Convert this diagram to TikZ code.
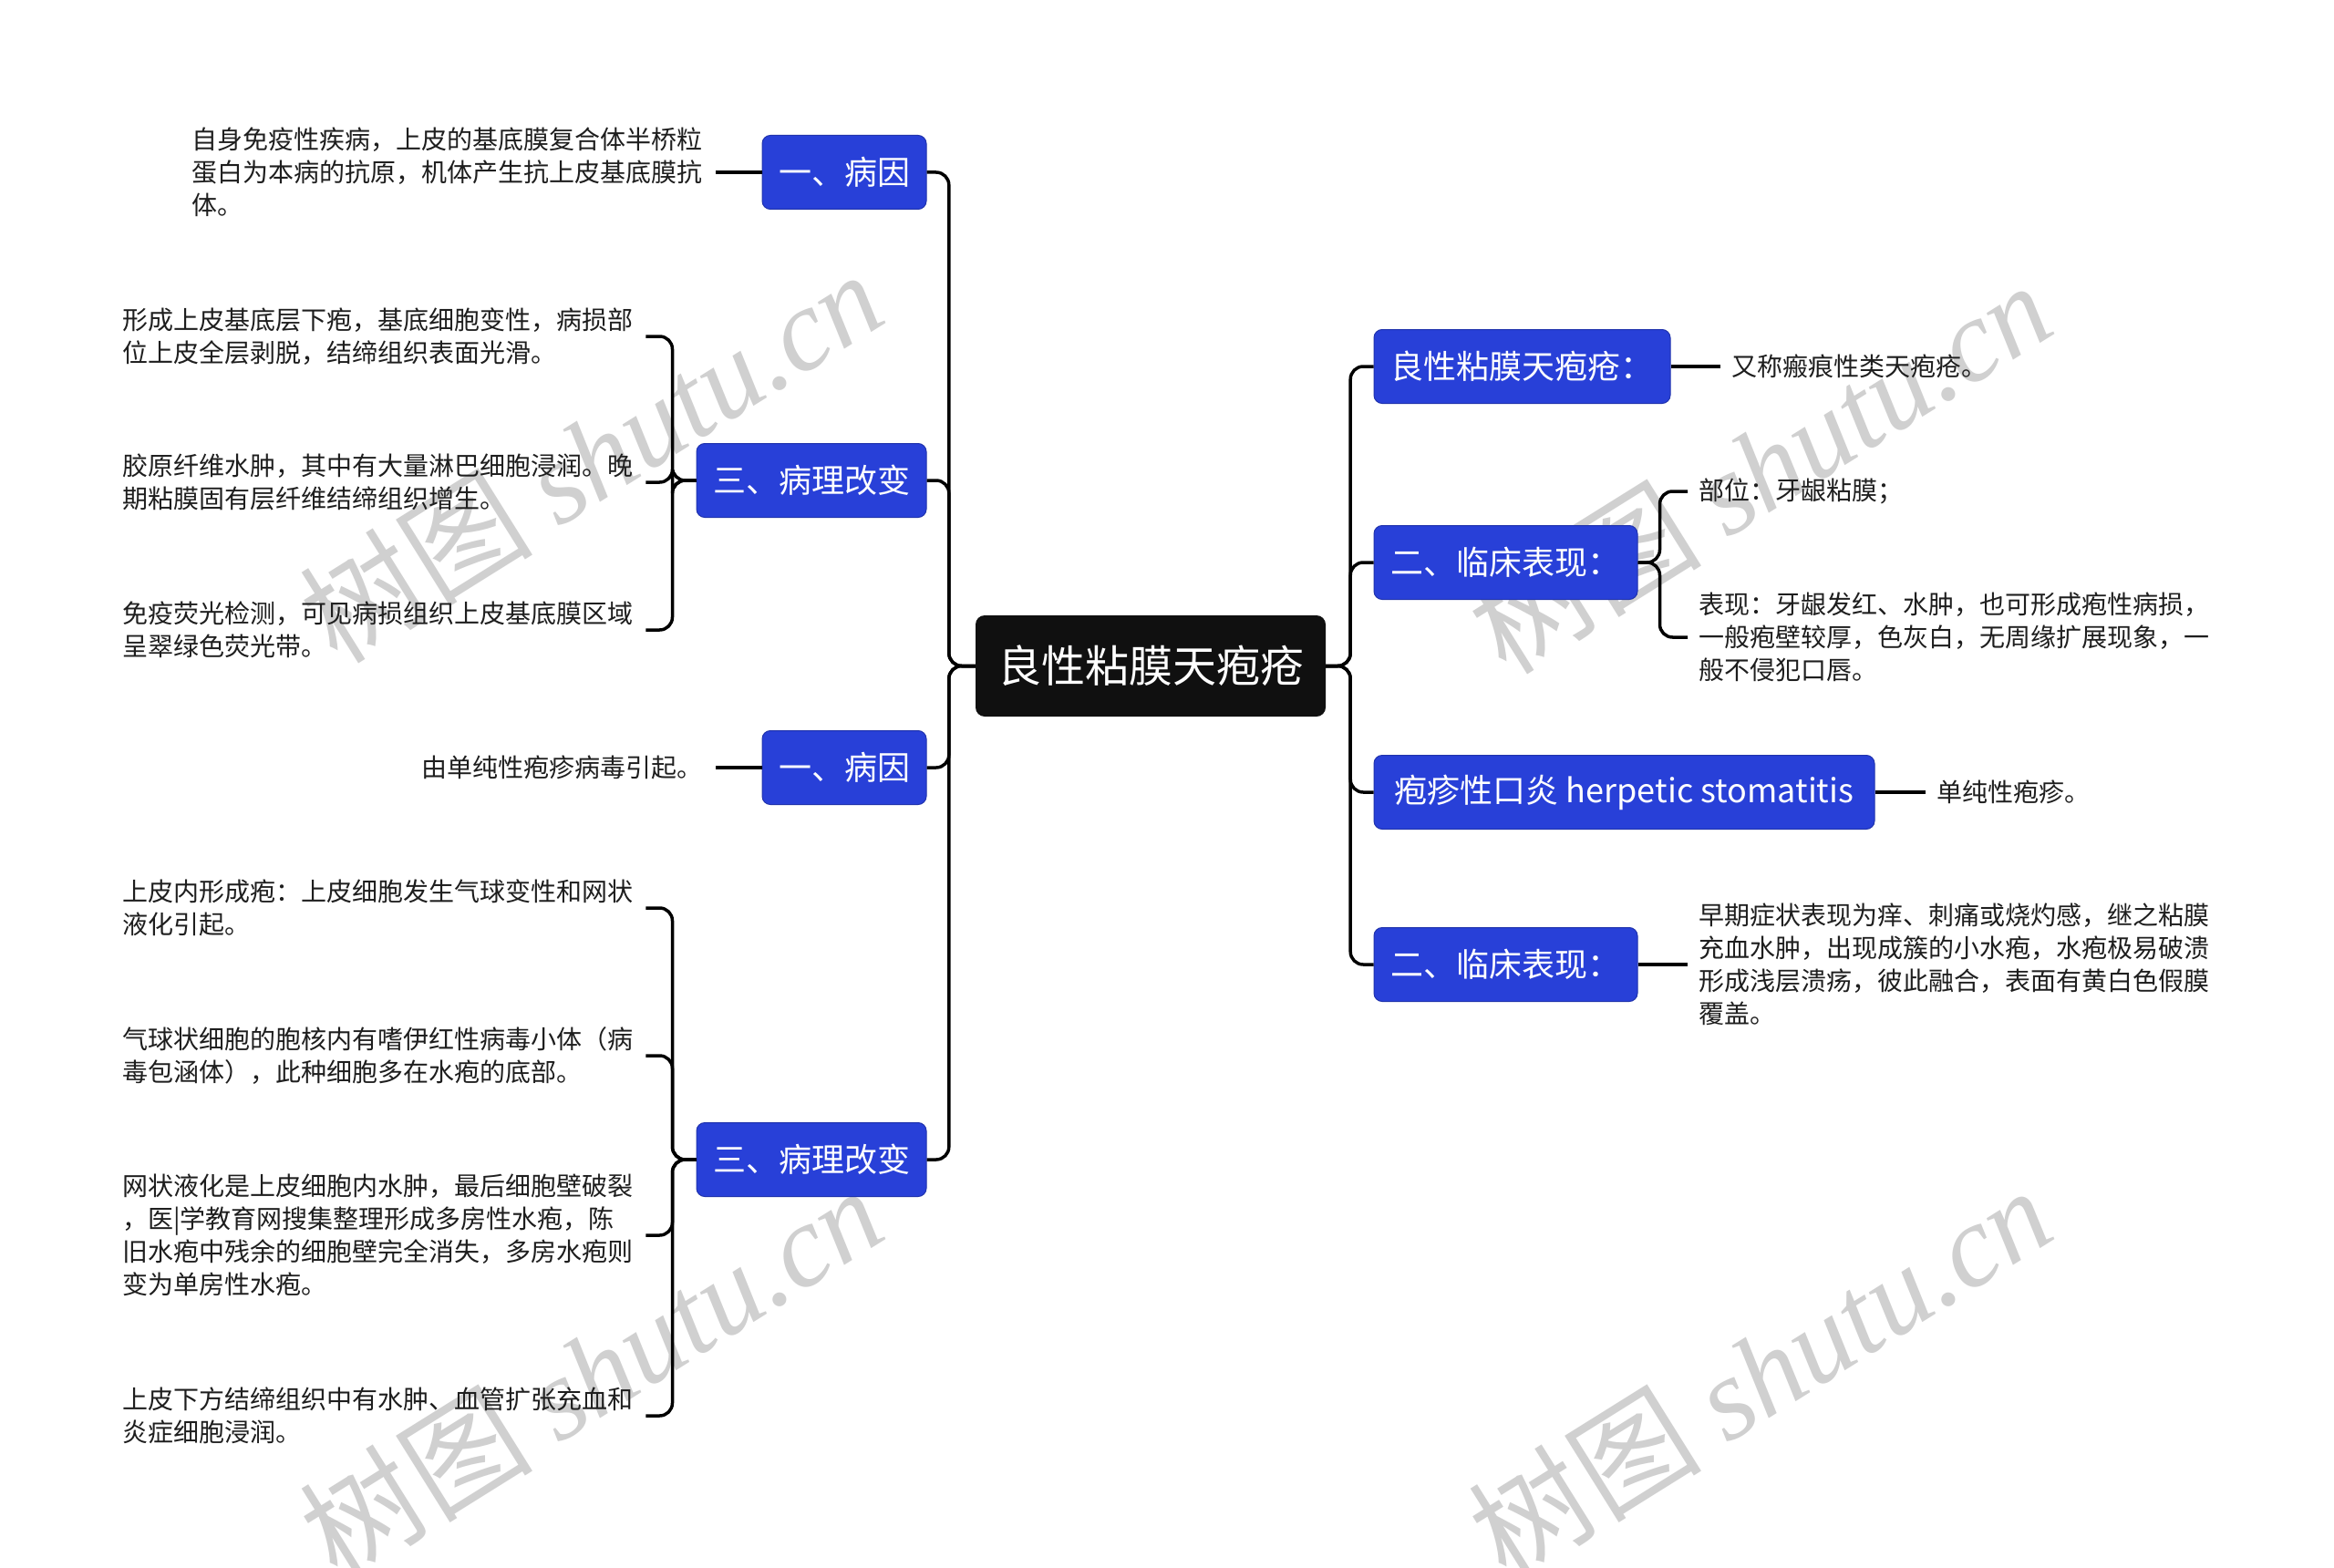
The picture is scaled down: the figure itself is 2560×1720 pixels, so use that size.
\documentclass[tikz,border=0pt]{standalone}
\usepackage{fontspec}
\setmainfont{Noto Sans CJK SC}
\newfontfamily\wmlatin{Liberation Serif}
\newfontfamily\cjk{Noto Sans CJK SC}
\definecolor{nodeblue}{RGB}{40,64,216}
\definecolor{rootblack}{RGB}{16,16,16}
\definecolor{leaftext}{RGB}{30,30,30}
\definecolor{wmgray}{RGB}{208,208,208}
\tikzset{
  conn/.style={line width=3.5pt, rounded corners=14pt},
  bluebox/.style={fill=nodeblue, draw=nodeblue!80!black, line width=1pt, rounded corners=9pt,
    text=white, font=\fontsize{36}{42}\selectfont, inner sep=0pt, minimum height=81pt},
  rootbox/.style={fill=rootblack, rounded corners=10pt, text=white,
    font=\fontsize{48}{56}\selectfont, minimum width=384pt, minimum height=111pt, inner sep=0pt},
  leaf/.style={font=\fontsize{28}{36}\selectfont, align=left, inner xsep=14pt, inner ysep=4pt, text=leaftext},
  rleaf/.style={leaf, inner xsep=12pt},
  wm/.style={text=wmgray, rotate=32, font=\fontsize{128}{136}\selectfont, inner sep=0pt}
}
\begin{document}
\begin{tikzpicture}[x=1pt,y=-1pt]
\useasboundingbox (0,0) rectangle (2560,1720);
\fill[white] (0,0) rectangle (2560,1720);

% watermarks
\node[wm] (wm1) at (648,500) {\cjk 树图 \wmlatin\itshape shutu.cn};
\node[wm] (wm2) at (648,1505) {\cjk 树图 \wmlatin\itshape shutu.cn};
\node[wm] (wm3) at (1930,512) {\cjk 树图 \wmlatin\itshape shutu.cn};
\node[wm] (wm4) at (1930,1505) {\cjk 树图 \wmlatin\itshape shutu.cn};

% root
\node[rootbox] (root) at (1262,730.5) {良性粘膜天疱疮};

% left branches
\node[bluebox, minimum width=180pt] (b1) at (926,189) {一、病因};
\node[bluebox, minimum width=252pt] (b2) at (890,527) {三、病理改变};
\node[bluebox, minimum width=180pt] (b3) at (926,842) {一、病因};
\node[bluebox, minimum width=252pt] (b4) at (890,1272) {三、病理改变};

% right branches
\node[bluebox, minimum width=325pt] (r1) at (1669.5,402) {良性粘膜天疱疮：};
\node[bluebox, minimum width=289pt] (r2) at (1651.5,617) {二、临床表现：};
\node[bluebox, minimum width=549pt] (r3) at (1781.5,869) {疱疹性口炎 herpetic stomatitis};
\node[bluebox, minimum width=289pt] (r4) at (1651.5,1058) {二、临床表现：};

% left leaves
\node[leaf, anchor=east] (l1) at (785,189) {自身免疫性疾病，上皮的基底膜复合体半桥粒\\蛋白为本病的抗原，机体产生抗上皮基底膜抗\\体。};
\node[leaf, anchor=west] (l2a) at (120,369) {形成上皮基底层下疱，基底细胞变性，病损部\\位上皮全层剥脱，结缔组织表面光滑。};
\node[leaf, anchor=west] (l2b) at (120,529) {胶原纤维水肿，其中有大量淋巴细胞浸润。晚\\期粘膜固有层纤维结缔组织增生。};
\node[leaf, anchor=west] (l2c) at (120,691) {免疫荧光检测，可见病损组织上皮基底膜区域\\呈翠绿色荧光带。};
\node[leaf, anchor=east] (l3) at (785,842) {由单纯性疱疹病毒引起。};
\node[leaf, anchor=west] (l4a) at (120,996) {上皮内形成疱：上皮细胞发生气球变性和网状\\液化引起。};
\node[leaf, anchor=west] (l4b) at (120,1158) {气球状细胞的胞核内有嗜伊红性病毒小体（病\\毒包涵体），此种细胞多在水疱的底部。};
\node[leaf, anchor=west] (l4c) at (120,1355) {网状液化是上皮细胞内水肿，最后细胞壁破裂\\，医|学教育网搜集整理形成多房性水疱，陈\\旧水疱中残余的细胞壁完全消失，多房水疱则\\变为单房性水疱。};
\node[leaf, anchor=west] (l4d) at (120,1553) {上皮下方结缔组织中有水肿、血管扩张充血和\\炎症细胞浸润。};

% right leaves
\node[rleaf, anchor=west] (q1) at (1887,402) {又称瘢痕性类天疱疮。};
\node[rleaf, anchor=west] (q2a) at (1851,539) {部位：牙龈粘膜；};
\node[rleaf, anchor=west] (q2b) at (1851,699) {表现：牙龈发红、水肿，也可形成疱性病损，\\一般疱壁较厚，色灰白，无周缘扩展现象，一\\般不侵犯口唇。};
\node[rleaf, anchor=west] (q3) at (2112,869) {单纯性疱疹。};
\node[rleaf, anchor=west] (q4) at (1851,1058) {早期症状表现为痒、刺痛或烧灼感，继之粘膜\\充血水肿，出现成簇的小水疱，水疱极易破溃\\形成浅层溃疡，彼此融合，表面有黄白色假膜\\覆盖。};

% connectors root -> branches
\foreach \b in {b1,b2,b3,b4} \draw[conn] (root.west) -- ++(-29,0) |- (\b.east);
\foreach \b in {r1,r2,r3,r4} \draw[conn] (root.east) -- ++(27,0) |- (\b.west);

% connectors branches -> leaves
\draw[conn] (b1.west) -- (l1.east);
\draw[conn] (b3.west) -- (l3.east);
\foreach \l in {l2a,l2b,l2c} \draw[conn] (b2.west) -- ++(-26,0) |- (\l.east);
\foreach \l in {l4a,l4b,l4c,l4d} \draw[conn] (b4.west) -- ++(-26,0) |- (\l.east);
\draw[conn] (r1.east) -- (q1.west);
\foreach \l in {q2a,q2b} \draw[conn] (r2.east) -- ++(24,0) |- (\l.west);
\draw[conn] (r3.east) -- (q3.west);
\draw[conn] (r4.east) -- (q4.west);
\end{tikzpicture}
\end{document}
